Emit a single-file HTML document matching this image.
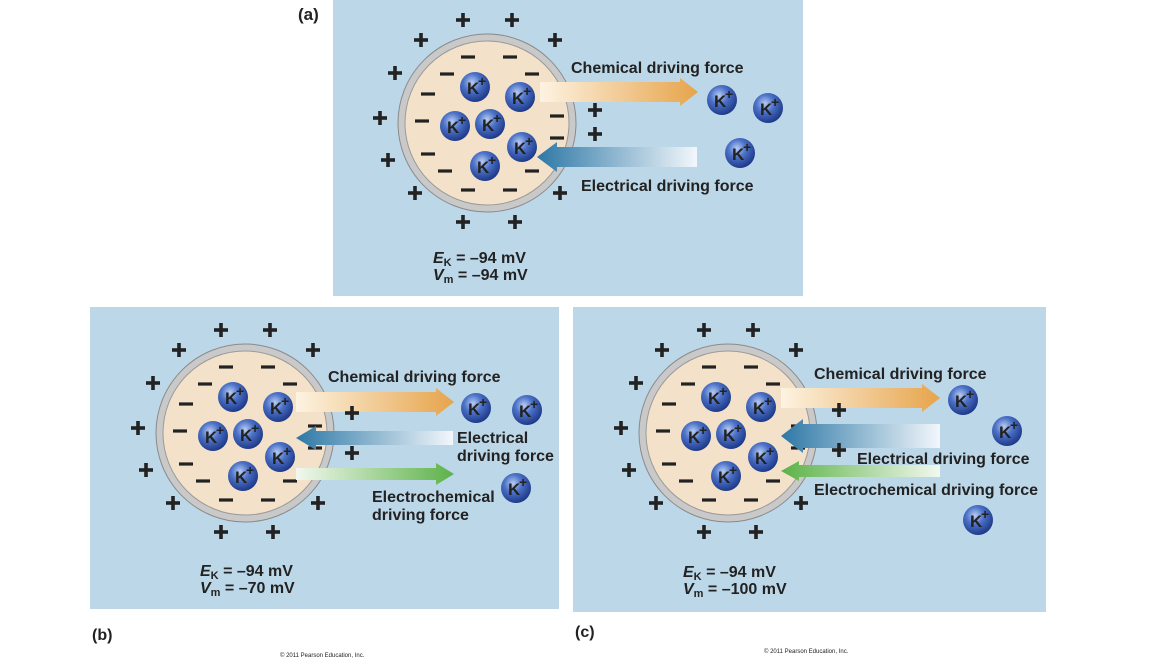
<!DOCTYPE html>
<html><head><meta charset="utf-8"><style>
html,body{margin:0;padding:0;background:#fff;}
svg{display:block;}
text{font-family:"Liberation Sans",Arial,sans-serif;font-weight:bold;fill:#222;}
</style></head><body>
<svg width="1162" height="664" viewBox="0 0 1162 664" xmlns="http://www.w3.org/2000/svg">
<defs>
<radialGradient id="ion" cx="0.4" cy="0.35" r="0.65">
<stop offset="0" stop-color="#b9cdf2"/><stop offset="0.45" stop-color="#4c72c8"/><stop offset="1" stop-color="#1f3a8a"/></radialGradient>
<linearGradient id="org" x1="0" x2="1"><stop offset="0" stop-color="#fdf3e2"/><stop offset="1" stop-color="#e6a44b"/></linearGradient>
<linearGradient id="blu" x1="1" x2="0"><stop offset="0" stop-color="#f2f7fb"/><stop offset="1" stop-color="#2e78a6"/></linearGradient>
<linearGradient id="grn" x1="0" x2="1"><stop offset="0" stop-color="#f2f8ee"/><stop offset="1" stop-color="#5cb248"/></linearGradient>
<linearGradient id="grnL" x1="1" x2="0"><stop offset="0" stop-color="#f2f8ee"/><stop offset="1" stop-color="#5cb248"/></linearGradient>
<g id="k"><circle r="15" fill="url(#ion)"/><text x="-8" y="7" font-size="17" fill="#111">K</text><text x="3" y="-1" font-size="14" fill="#111">+</text></g>
<g id="m"><rect x="-7" y="-1.6" width="14" height="3.2" fill="#222"/></g>
<g id="p"><rect x="-7" y="-1.8" width="14" height="3.6" fill="#222"/><rect x="-1.8" y="-7" width="3.6" height="14" fill="#222"/></g>
<g id="cell">
<circle r="89" fill="#c9c9c9" stroke="#8a8a8a" stroke-width="1"/>
<circle r="82" fill="#f3e2c9" stroke="#9a9a9a" stroke-width="1"/>
<use href="#m" x="-19" y="-66"/><use href="#m" x="23" y="-66"/><use href="#m" x="-40" y="-49"/><use href="#m" x="45" y="-49"/>
<use href="#m" x="-59" y="-29"/><use href="#m" x="-65" y="-2"/><use href="#m" x="70" y="-7"/><use href="#m" x="70" y="15"/>
<use href="#m" x="-59" y="31"/><use href="#m" x="-42" y="48"/><use href="#m" x="45" y="48"/><use href="#m" x="-19" y="67"/><use href="#m" x="23" y="67"/>
<use href="#k" x="-12" y="-36"/><use href="#k" x="33" y="-26"/><use href="#k" x="-32" y="3"/><use href="#k" x="3" y="1"/><use href="#k" x="35" y="24"/><use href="#k" x="-2" y="43"/>
<use href="#p" x="-24" y="-103"/><use href="#p" x="25" y="-103"/><use href="#p" x="-66" y="-83"/><use href="#p" x="68" y="-83"/>
<use href="#p" x="-92" y="-50"/><use href="#p" x="-107" y="-5"/><use href="#p" x="-99" y="37"/><use href="#p" x="-72" y="70"/><use href="#p" x="73" y="70"/>
<use href="#p" x="-24" y="99"/><use href="#p" x="28" y="99"/>
</g>
</defs>

<rect x="333" y="0" width="470" height="296" fill="#bcd7e8"/>
<text x="298" y="20" font-size="17">(a)</text>
<use href="#cell" x="487" y="123"/>
<polygon points="540,82 680,82 680,78 698,92 680,106 680,102 540,102" fill="url(#org)"/>
<polygon points="697,147 557,147 557,142 537,157 557,172 557,167 697,167" fill="url(#blu)"/>
<use href="#p" x="595" y="110"/><use href="#p" x="595" y="134"/>
<use href="#k" x="722" y="100"/><use href="#k" x="768" y="108"/><use href="#k" x="740" y="153"/>
<text x="571" y="73" font-size="16">Chemical driving force</text>
<text x="581" y="191" font-size="16">Electrical driving force</text>
<text x="433" y="263" font-size="16"><tspan font-style="italic">E</tspan><tspan font-size="11" dy="3">K</tspan><tspan dy="-3"> = –94 mV</tspan></text>
<text x="433" y="280" font-size="16"><tspan font-style="italic">V</tspan><tspan font-size="11" dy="3">m</tspan><tspan dy="-3"> = –94 mV</tspan></text>

<rect x="90" y="307" width="469" height="302" fill="#bcd7e8"/>
<use href="#cell" x="245" y="433"/>
<polygon points="296,392 436,392 436,388 454,402 436,416 436,412 296,412" fill="url(#org)"/>
<polygon points="453,431 316,431 316,426 296,438 316,450 316,445 453,445" fill="url(#blu)"/>
<polygon points="296,468 436,468 436,463 454,474 436,485 436,480 296,480" fill="url(#grn)"/>
<use href="#p" x="352" y="413"/><use href="#p" x="352" y="453"/>
<use href="#k" x="476" y="408"/><use href="#k" x="527" y="410"/><use href="#k" x="516" y="488"/>
<text x="328" y="382" font-size="16">Chemical driving force</text>
<text x="457" y="443" font-size="16">Electrical</text>
<text x="457" y="461" font-size="16">driving force</text>
<text x="372" y="502" font-size="16">Electrochemical</text>
<text x="372" y="520" font-size="16">driving force</text>
<text x="200" y="576" font-size="16"><tspan font-style="italic">E</tspan><tspan font-size="11" dy="3">K</tspan><tspan dy="-3"> = –94 mV</tspan></text>
<text x="200" y="593" font-size="16"><tspan font-style="italic">V</tspan><tspan font-size="11" dy="3">m</tspan><tspan dy="-3"> = –70 mV</tspan></text>
<text x="92" y="640" font-size="16">(b)</text>
<text x="280" y="657" font-size="6" style="font-weight:normal">© 2011 Pearson Education, Inc.</text>

<rect x="573" y="307" width="473" height="305" fill="#bcd7e8"/>
<use href="#cell" x="728" y="433"/>
<polygon points="781,388 922,388 922,384 940,398 922,412 922,408 781,408" fill="url(#org)"/>
<polygon points="940,424 803,424 803,419 781,436 803,453 803,448 940,448" fill="url(#blu)"/>
<polygon points="940,465 799,465 799,461 781,471 799,481 799,477 940,477" fill="url(#grnL)"/>
<use href="#p" x="839" y="410"/><use href="#p" x="839" y="450"/>
<use href="#k" x="963" y="400"/><use href="#k" x="1007" y="431"/><use href="#k" x="978" y="520"/>
<text x="814" y="379" font-size="16">Chemical driving force</text>
<text x="857" y="464" font-size="16">Electrical driving force</text>
<text x="814" y="495" font-size="16">Electrochemical driving force</text>
<text x="683" y="577" font-size="16"><tspan font-style="italic">E</tspan><tspan font-size="11" dy="3">K</tspan><tspan dy="-3"> = –94 mV</tspan></text>
<text x="683" y="594" font-size="16"><tspan font-style="italic">V</tspan><tspan font-size="11" dy="3">m</tspan><tspan dy="-3"> = –100 mV</tspan></text>
<text x="575" y="637" font-size="16">(c)</text>
<text x="764" y="653" font-size="6" style="font-weight:normal">© 2011 Pearson Education, Inc.</text>
</svg>
</body></html>
